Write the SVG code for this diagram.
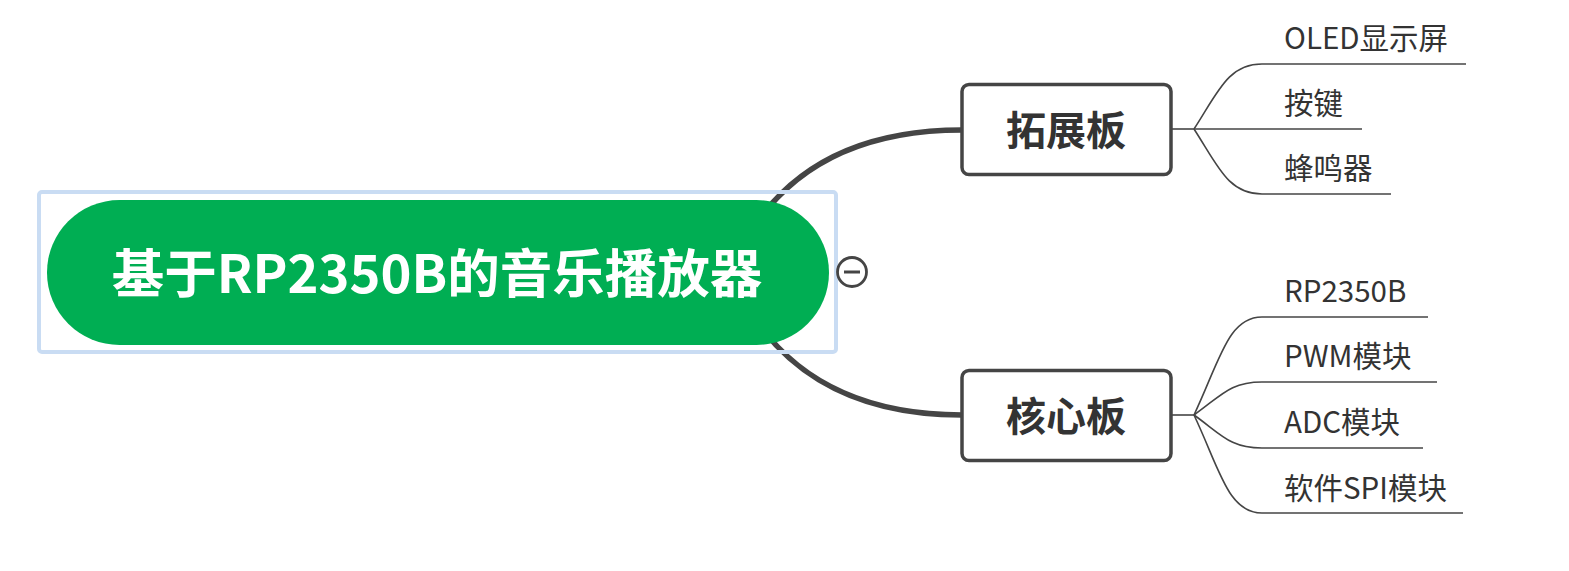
<svg xmlns="http://www.w3.org/2000/svg" width="1569" height="571" viewBox="0 0 1569 571">
<style>
.main{fill:none;stroke:#454545;stroke-width:5.5;stroke-linecap:round}
.sub{fill:none;stroke:#454545;stroke-width:1.6}
.box{fill:#fff;stroke:#454545;stroke-width:3.5}
.bt{font-family:"Noto Sans CJK SC","Noto Sans",sans-serif;font-weight:bold;font-size:40px;fill:#333;text-anchor:middle}
.lt{font-family:"Noto Sans CJK SC","Noto Sans",sans-serif;font-size:29.5px;fill:#333}
.rt{font-family:"Noto Sans CJK SC","Noto Sans",sans-serif;font-weight:bold;font-size:52.5px;fill:#fff;text-anchor:middle}
</style>
<rect width="1569" height="571" fill="#fff"/>
<g id="connectors">
<path class="main" d="M730,272 C770,175 850,130 962,130"/>
<path class="main" d="M730,272 C770,369 850,415 962,415"/>
<path class="sub" d="M1172,129 H1194"/>
<path class="sub" d="M1194,129 C1218,92 1228,64 1262,64 H1466"/>
<path class="sub" d="M1194,129 H1362"/>
<path class="sub" d="M1194,129 C1218,166 1228,194 1262,194 H1391"/>
<path class="sub" d="M1172,415 H1194"/>
<path class="sub" d="M1194,415 C1220,360 1228,317 1262,317 H1428"/>
<path class="sub" d="M1194,415 C1222,395 1230,382 1262,382 H1437"/>
<path class="sub" d="M1194,415 C1222,435 1230,448 1262,448 H1423"/>
<path class="sub" d="M1194,415 C1220,470 1228,513 1262,513 H1463"/>
</g>
<g id="root">
<rect x="39" y="192" width="797" height="160" rx="3" fill="none" stroke="#c9dcf3" stroke-width="4"/>
<rect x="47" y="200" width="782" height="145" rx="72.5" fill="#00ae53"/>
<text class="rt" x="437" y="293">基于RP2350B的音乐播放器</text>
</g>
<g id="collapse">
<circle cx="852" cy="272" r="14.5" fill="#fff" stroke="#454545" stroke-width="2.8"/>
<line x1="844" y1="272" x2="860" y2="272" stroke="#454545" stroke-width="3"/>
</g>
<g id="n-kuozhan">
<rect class="box" x="962" y="84.5" width="209" height="90" rx="7"/>
<text class="bt" x="1066" y="145">拓展板</text>
</g>
<g id="n-hexin">
<rect class="box" x="962" y="370.5" width="209" height="90" rx="7"/>
<text class="bt" x="1066" y="431">核心板</text>
</g>
<g id="l-oled"><text class="lt" x="1284" y="49">OLED显示屏</text></g>
<g id="l-anjian"><text class="lt" x="1284" y="114">按键</text></g>
<g id="l-fengming"><text class="lt" x="1284" y="179">蜂鸣器</text></g>
<g id="l-rp"><text class="lt" x="1284" y="302">RP2350B</text></g>
<g id="l-pwm"><text class="lt" x="1284" y="367">PWM模块</text></g>
<g id="l-adc"><text class="lt" x="1284" y="433">ADC模块</text></g>
<g id="l-spi"><text class="lt" x="1284" y="499">软件SPI模块</text></g>
</svg>
